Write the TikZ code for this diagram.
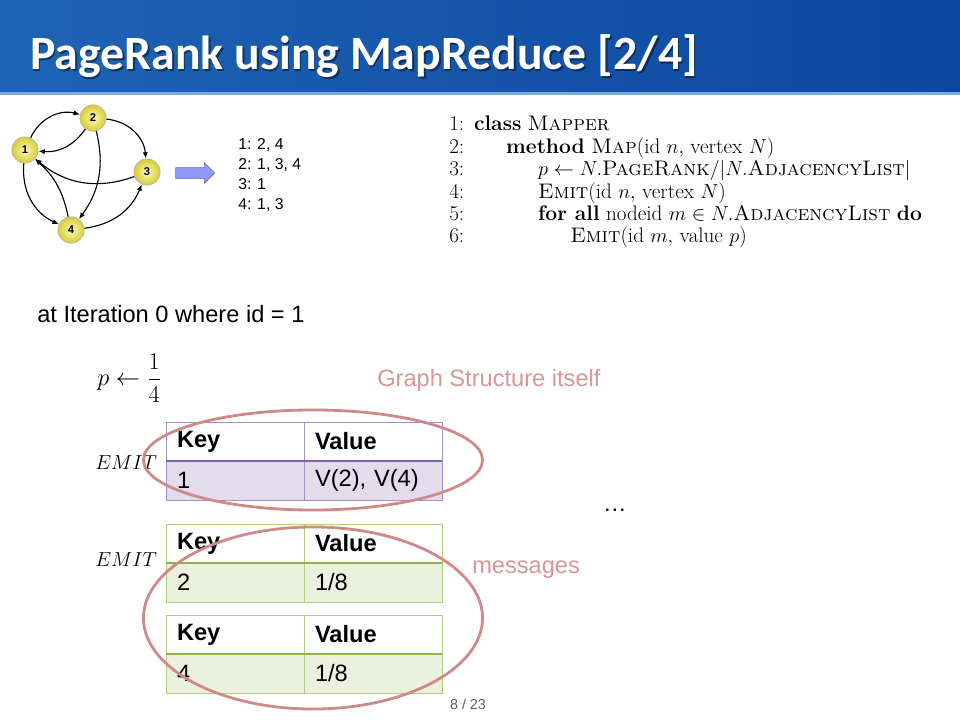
\documentclass[tikz,border=0pt]{standalone}
\usepackage{fontspec}
\usepackage{amsmath}
\usetikzlibrary{shapes.geometric, shapes.arrows, arrows.meta, positioning}

\newfontfamily\arialfont{Liberation Sans}
\newfontfamily\titlefont{Carlito}

\definecolor{hdrL}{RGB}{30,100,180}
\definecolor{hdrM}{RGB}{72,148,216}
\definecolor{hdrR}{RGB}{12,70,160}
\definecolor{hdrLine}{RGB}{120,170,220}
\definecolor{pBord}{RGB}{160,146,198}
\definecolor{pLine}{RGB}{128,100,162}
\definecolor{pFill}{RGB}{226,220,237}
\definecolor{gBord}{RGB}{178,204,130}
\definecolor{gLine}{RGB}{140,180,70}
\definecolor{gFill}{RGB}{235,241,222}
\definecolor{ringCol}{RGB}{208,138,138}
\definecolor{noteCol}{RGB}{218,150,150}
\definecolor{arrFill}{RGB}{148,152,246}
\definecolor{arrDraw}{RGB}{100,104,200}

\newcommand{\bodyfont}{\arialfont\fontsize{16.8}{20}\selectfont}

\begin{document}
\begin{tikzpicture}[x=0.025cm, y=-0.025cm,
            gnode/.style ={circle, minimum size=0.66cm, inner sep=0pt, draw=gray!60,
                           inner color={rgb,255:red,252;green,250;blue,180}, outer color={rgb,255:red,214;green,204;blue,52},
                           font=\arialfont\bfseries\fontsize{8}{8}\selectfont},
            gedge/.style ={-{Latex[length=1.6mm, width=1.3mm]}, line width=0.8pt},
            cell/.style  ={rectangle, inner xsep=0.275cm, inner ysep=0pt, outer sep=0pt,
                           text width=2.9cm, align=left, minimum height=0.975cm, font=\bodyfont},
            phead/.style ={cell, draw=pBord, fill=white, font=\bodyfont\bfseries},
            pdata/.style ={cell, draw=pBord, fill=pFill},
            ghead/.style ={cell, draw=gBord, fill=white, font=\bodyfont\bfseries},
            gdata/.style ={cell, draw=gBord, fill=gFill},
            ring/.style  ={ellipse, draw=ringCol, line width=2pt, inner sep=0pt, minimum width=8.475cm},
            note/.style  ={font=\bodyfont, text=noteCol, inner sep=0pt}
        ]
            \useasboundingbox (0,0) rectangle (960,720);

            % --- Cabecera ---
            \shade[left color=hdrL, middle color=hdrM, right color=hdrR] (0,0) rectangle (960,92);
            \fill[hdrLine] (0,92) rectangle (960,95);
            \node[anchor=base west, inner sep=0pt, text=black, opacity=0.45,
                  font=\titlefont\bfseries\fontsize{34}{40}\selectfont] (titleshadow) at (31.5,71.5) {PageRank using MapReduce [2/4]};
            \node[anchor=base west, inner sep=0pt, text=white,
                  font=\titlefont\bfseries\fontsize{34}{40}\selectfont] (title) at (30,70) {PageRank using MapReduce [2/4]};

            % --- Grafo de ejemplo ---
            \node[gnode] (n1) at (25,150)  {1};
            \node[gnode] (n2) at (93,118)  {2};
            \node[gnode] (n3) at (147,172) {3};
            \node[gnode] (n4) at (71,230)  {4};

            \draw[gedge] (n1) to[bend left=40]  (n2);
            \draw[gedge] (n2) to[bend left=30]  (n1);
            \draw[gedge] (n2) to[bend left=40]  (n3);
            \draw[gedge] (n2) to[bend left=25]  (n4);
            \draw[gedge] (n3) to[bend left=30]  (n1);
            \draw[gedge] (n1) to[bend right=35] (n4);
            \draw[gedge] (n4) to[bend right=18] (n1);
            \draw[gedge] (n4) to[bend right=30] (n3);

            \node[single arrow, draw=arrDraw, fill=arrFill, inner xsep=0pt, inner ysep=0.125cm,
                  minimum height=0.975cm, single arrow head extend=0.125cm] (maparrow) at (192.5,173) {};

            % --- Lista de adyacencia ---
            \node[anchor=base west, inner sep=0pt] (adjlist) at (238,150)
                {\arialfont\fontsize{11.2}{14.2}\selectfont
                 \begin{tabular}[t]{@{}l@{}}1: 2, 4\\ 2: 1, 3, 4\\ 3: 1\\ 4: 1, 3\end{tabular}};

            % --- Pseudocodigo del Mapper ---
            \node[anchor=base west, inner sep=0pt] (mapper) at (449,131)
                {\fontsize{15}{15.8}\selectfont
                 \begin{tabular}[t]{@{}l@{\hspace{7pt}}l@{}}
                 1: & \textbf{class} \textsc{Mapper}\\
                 2: & \hspace*{22.8pt}\textbf{method} \textsc{Map}(id $n,$ vertex $N$)\\
                 3: & \hspace*{45.6pt}$p \leftarrow N.$\textsc{PageRank}$/|N.$\textsc{AdjacencyList}$|$\\
                 4: & \hspace*{45.6pt}\textsc{Emit}(id $n,$ vertex $N$)\\
                 5: & \hspace*{45.6pt}\textbf{for all} nodeid $m \in N.$\textsc{AdjacencyList} \textbf{do}\\
                 6: & \hspace*{68.4pt}\textsc{Emit}(id $m,$ value $p$)
                 \end{tabular}};

            % --- Iteracion 0 ---
            \node[anchor=base west, inner sep=0pt, font=\bodyfont] (iter) at (37,323) {at Iteration 0 where id = 1};
            \node[anchor=west, inner sep=0pt, font=\fontsize{18}{20}\selectfont] (prank) at (97,378) {$p \leftarrow \dfrac{1}{4}$};
            \node[anchor=west, inner sep=0pt, font=\fontsize{15}{18}\selectfont] (emit1) at (95,463) {$EMIT$};
            \node[anchor=west, inner sep=0pt, font=\fontsize{15}{18}\selectfont] (emit2) at (95,560) {$EMIT$};

            % Tabla 1: estructura del grafo
            \node[phead, anchor=north west] (k1h) at (166,422) {Key};
            \node[phead, right=0cm of k1h]  (v1h) {Value};
            \node[pdata, below=0cm of k1h]  (k1d) {1};
            \node[pdata, right=0cm of k1d]  (v1d) {V(2), V(4)};
            \draw[pLine, line width=1.6pt] (k1h.south west) -- (v1h.south east);

            % Tabla 2 y 3: mensajes
            \node[ghead, anchor=north west] (k2h) at (166,524) {Key};
            \node[ghead, right=0cm of k2h]  (v2h) {Value};
            \node[gdata, below=0cm of k2h]  (k2d) {2};
            \node[gdata, right=0cm of k2d]  (v2d) {1/8};
            \draw[gLine, line width=1.6pt] (k2h.south west) -- (v2h.south east);

            \node[ghead, anchor=north west] (k3h) at (166,615) {Key};
            \node[ghead, right=0cm of k3h]  (v3h) {Value};
            \node[gdata, below=0cm of k3h]  (k3d) {4};
            \node[gdata, right=0cm of k3d]  (v3d) {1/8};
            \draw[gLine, line width=1.6pt] (k3h.south west) -- (v3h.south east);

            % --- Anotaciones ---
            \node[ring, minimum height=2.5cm]  (gsring)  at (313,460) {};
            \node[ring, minimum height=4.55cm] (msgring) at (313,618) {};
            \node[note, anchor=west] (gslabel)  at (377,380) {Graph Structure itself};
            \node[note, anchor=west] (msglabel) at (472,570) {messages};
            \node[font=\bodyfont, inner sep=0pt] (dots) at (615,510) {\ldots};
            \node[font=\arialfont\fontsize{10.2}{12}\selectfont, text=gray!75!black, inner sep=0pt] (pagenum) at (468,704) {8 / 23};
        \end{tikzpicture}
\end{document}
